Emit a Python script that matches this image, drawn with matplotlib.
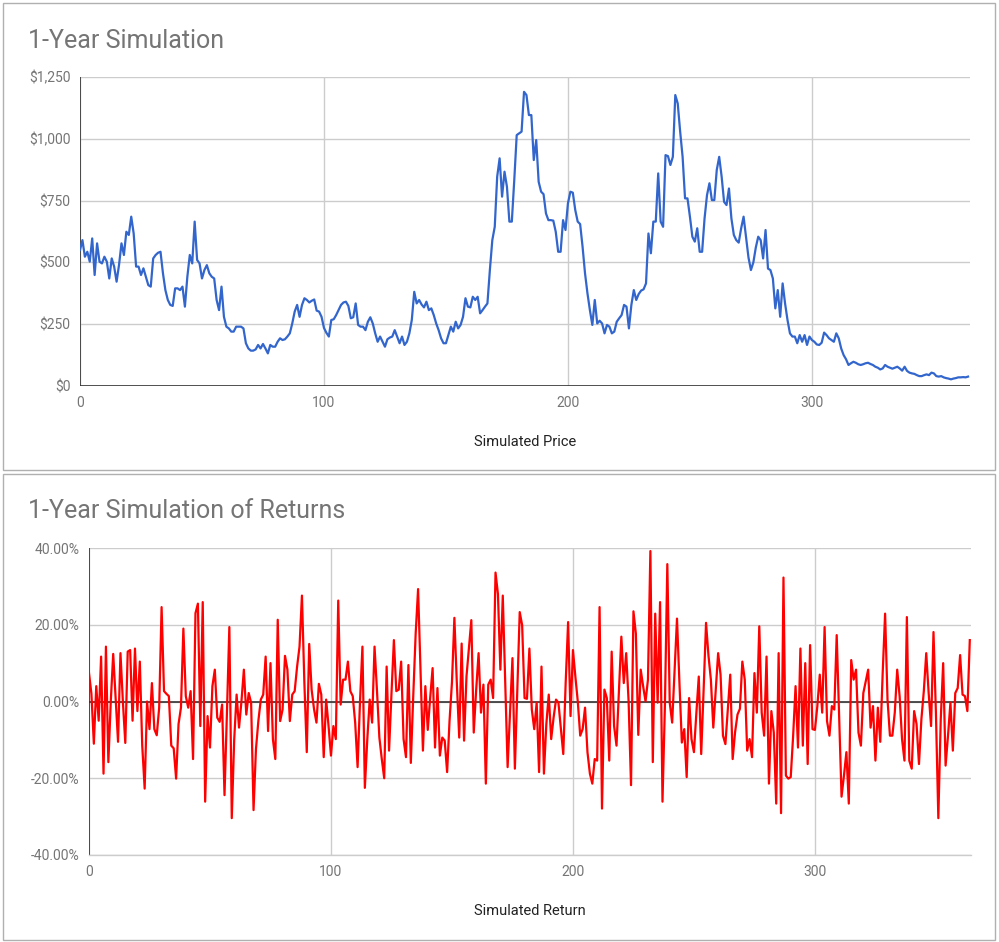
import numpy as np
import matplotlib
matplotlib.use("Agg")
import matplotlib.pyplot as plt
from matplotlib.ticker import FuncFormatter
from matplotlib.patches import Rectangle

# simulated price, one value per day
price = [
    550, 590, 523, 543, 503, 597, 449, 577, 503, 496,
    523, 503, 435, 516, 483, 422, 490, 577, 530, 624,
    611, 685, 617, 483, 483, 449, 476, 442, 408, 402,
    516, 530, 539, 543, 456, 388, 348, 328, 324, 395,
    395, 388, 402, 321, 442, 530, 496, 665, 510, 496,
    435, 469, 489, 456, 442, 435, 348, 307, 402, 280,
    240, 233, 220, 220, 240, 240, 240, 233, 173, 152,
    143, 143, 148, 166, 152, 170, 152, 132, 166, 159,
    159, 179, 193, 186, 189, 200, 213, 253, 301, 328,
    280, 328, 355, 348, 338, 345, 350, 305, 301, 280,
    235, 215, 200, 267, 270, 287, 307, 328, 338, 341,
    324, 274, 278, 334, 247, 240, 240, 226, 260, 278,
    253, 213, 179, 200, 179, 159, 189, 196, 200, 226,
    200, 173, 200, 166, 179, 213, 267, 381, 334, 348,
    330, 318, 341, 307, 314, 287, 253, 226, 193, 173,
    173, 206, 240, 220, 260, 233, 247, 280, 355, 321,
    318, 361, 348, 361, 294, 307, 321, 334, 469, 590,
    644, 847, 921, 766, 867, 806, 665, 665, 833, 1015,
    1022, 1029, 1190, 1177, 1096, 1096, 914, 995, 826, 786,
    776, 698, 671, 671, 669, 624, 543, 543, 671, 631,
    739, 786, 782, 712, 665, 655, 563, 456, 375, 307,
    247, 348, 253, 264, 253, 213, 247, 240, 213, 220,
    260, 274, 287, 328, 321, 233, 328, 388, 348, 372,
    386, 391, 415, 617, 537, 665, 665, 860, 665, 644,
    934, 930, 894, 927, 1177, 1143, 1029, 927, 759, 759,
    685, 604, 584, 638, 543, 543, 678, 772, 820, 752,
    752, 874, 927, 847, 745, 732, 799, 678, 611, 590,
    580, 638, 685, 604, 520, 469, 500, 560, 604, 590,
    516, 631, 475, 469, 435, 314, 388, 280, 415, 334,
    267, 213, 200, 200, 173, 206, 179, 206, 166, 200,
    186, 179, 168, 166, 175, 216, 206, 193, 186, 179,
    213, 193, 152, 125, 108, 85, 92, 98, 94, 88,
    85, 88, 92, 94, 89, 85, 78, 74, 67, 71,
    85, 78, 74, 70, 74, 78, 71, 62, 78, 61,
    54, 51, 49, 44, 40, 40, 44, 47, 44, 54,
    51, 40, 38, 40, 35, 32, 30, 27, 30, 32,
    35, 35, 36, 35, 38,
]

# simulated daily return in percent
returns = [
    7.4, 2, -11, 4, -5, 11.7, -18.8, 14.3, -15.8, 0,
    12.4, 1, -10.5, 12.6, 0, -10.8, 13, 13.4, -5, 13.8,
    -2.5, 10.4, -11.5, -22.7, 0, -7.2, 4.8, -7.2, -8.8, -1.6,
    24.6, 2.7, 2, 1.4, -11.5, -12.2, -20.1, -5.9, -1.6, 19,
    1.4, -1.6, 2.7, -15, 23, 25.5, -6.4, 25.9, -26.1, -3.8,
    -12, 4, 8.3, -4.2, -5.3, -0.8, -24.4, -3, 19.4, -30.4,
    -10, 1.8, -6.8, 0, 8.3, -3.4, 2.2, -0.3, -28.3, -12.4,
    -5, 0.5, 1.8, 11.7, -7.7, 10, -9.8, -15, 21.3, -5.1,
    -2.1, 11.9, 8.3, -5.1, 1.8, 2.7, 9.1, 14.3, 27.6, 5,
    -13.2, 15, 3.1, -2, -5.5, 4.6, 1.8, -14.5, 0.5, -6.4,
    -14.1, -6.4, -9.8, 26.3, -0.8, 5.7, 5.7, 10.4, 2.7, 1.4,
    -5.5, -17.1, 0, 14.3, -22.5, -10, 0.5, -5.5, 14.3, 3,
    -9.4, -15, -20, 9.1, -12.8, 2, 16, 2.7, 3.1, 10.4,
    -9.8, -14.5, 9.5, -16, 1.4, 17.7, 29.3, 8, -12.8, 4,
    -7.4, 1, 8.7, -12, 3.5, -14.1, -9.4, -10.2, -18.4, -5,
    5, 21.8, 5, -9.4, 15.1, -10.2, 6.5, 14, 21.2, -8.1,
    3, 12.6, -2.9, 4.4, -21.4, 4.4, 5.7, 0.9, 33.6, 28,
    8.3, 27.6, 5, -17.1, -3, 11.3, -17.5, 3, 23.3, 19.9,
    0.9, 0.7, 13.8, -2.1, -7.2, -0.3, -18.4, 9.1, -18.8, -5.9,
    1.8, -9.8, -4.2, 0.5, -0.3, -7, -13.7, 5, 20.7, -3.8,
    13.4, 6.5, 0, -8.9, -7.2, -1.6, -13.2, -18.8, -21.4, -15,
    -15.4, 24.6, -27.9, 3.1, 0.9, -15.4, 13, -6.4, -11.5, 3,
    16.9, 4.8, 12.6, 0, -21.8, 23.5, 17.7, -8.7, 8.3, 4,
    0, 5.7, 39.2, -15.8, 22.9, -0.3, 25.9, -26.1, -1.2, 35.8,
    -0.3, -5.5, 8, 21.6, 5, -10.7, -7.2, -19.7, 0.9, -9.8,
    -13.2, -3, 6.5, -13.7, 3, 20.5, 12, 5.7, -6.8, 3,
    12.6, 7, -8.9, -11.1, -2, 7, -15, -8, -3.4, -1.9,
    10.4, 5.7, -12.8, -9.8, -14.5, 7.4, -2.9, 19.6, -2.9, -8.9,
    11.7, -21.4, -2.5, -8.1, -26.6, 12.6, -29.1, 32.3, -19.3, -20.1,
    -19.7, -8.9, 4, -12, 13.8, -11.5, 10, -16.3, 14.7, -7.2,
    -7.4, -1.2, 7, -2.9, 19.4, -5.1, -8.9, -1.2, -2.1, 17.3,
    -3.8, -24.8, -19.3, -13.2, -26.6, 10.8, 5.7, 8.3, -8.1, -11.5,
    2.2, 5.2, 8.3, -6.8, -1.2, -15.4, -1.6, -10.5, 7.4, 22.9,
    0.5, -8.9, -8.9, -2.9, 8.3, 1.4, -9.8, -15.4, 22, -15.4,
    -17.5, -2.5, -5.9, -16.3, -4.6, 2.7, 12.6, 2.2, -6.4, 18.1,
    -2.9, -30.4, -4.6, 10, -16.7, -8.9, -0.3, -12.8, 2.2, 3.5,
    12.1, 1.8, 1.4, -2.5, 16,
]

price_ticks = [0, 250, 500, 750, 1000, 1250]
return_ticks = [-40, -20, 0, 20, 40]
day_ticks = [0, 100, 200, 300]

plt.rcParams['font.family'] = ['Roboto', 'DejaVu Sans']
grey_text = '#757575'
grid_col = '#cccccc'

W, H = 999, 942
fig = plt.figure(figsize=(W / 100, H / 100), dpi=100)

# panel frames
for (x0, y0, x1, y1) in [(3, 3, 995, 470), (3, 474, 995, 940)]:
    fig.patches.append(Rectangle((x0 / W, 1 - y1 / H), (x1 - x0) / W, (y1 - y0) / H,
                                 transform=fig.transFigure, fill=False,
                                 edgecolor='#b0b0b0', linewidth=1))


def style(ax, ticks):
    for s in ax.spines.values():
        s.set_visible(False)
    ax.set_yticks(ticks)
    ax.set_xticks(day_ticks)
    ax.tick_params(length=0, labelsize=10, labelcolor=grey_text, pad=7)
    ax.grid(True, color=grid_col, linewidth=1)
    ax.set_axisbelow(True)
    ax.axvline(0, color='#333333', linewidth=1.2, zorder=1)


# top: price
ax1 = fig.add_axes([80 / W, 1 - 386 / H, 890 / W, 309 / H])
days = np.arange(len(price))
ax1.plot(days, price, color='#3366CC', linewidth=1.6, zorder=3)
ax1.set_xlim(0, 364.8)
ax1.set_ylim(0, 1250)
style(ax1, price_ticks)
ax1.axhline(0, color='#333333', linewidth=1.2, zorder=2)
ax1.yaxis.set_major_formatter(FuncFormatter(lambda v, p: '${:,.0f}'.format(v)))
ax1.set_xlabel('Simulated Price', fontsize=10.5, color='#222222', labelpad=18)
fig.text(28 / W, 1 - 41 / H, '1-Year Simulation', fontsize=18, color=grey_text, va='center')

# bottom: returns
ax2 = fig.add_axes([89 / W, 1 - 855 / H, 882 / W, 307 / H])
days2 = np.arange(len(returns))
ax2.plot(days2, returns, color='#FF0000', linewidth=1.6, zorder=3)
ax2.set_xlim(0, 364.5)
ax2.set_ylim(-40, 40)
style(ax2, return_ticks)
ax2.axhline(0, color='#333333', linewidth=1.2, zorder=2)
ax2.axhline(-40, color=grid_col, linewidth=1, zorder=1, clip_on=False)
ax2.yaxis.set_major_formatter(FuncFormatter(lambda v, p: '{:.2f}%'.format(v)))
ax2.set_xlabel('Simulated Return', fontsize=10.5, color='#222222', labelpad=18)
fig.text(28 / W, 1 - 511 / H, '1-Year Simulation of Returns', fontsize=18, color=grey_text, va='center')

fig.savefig('out.png', dpi=100)
